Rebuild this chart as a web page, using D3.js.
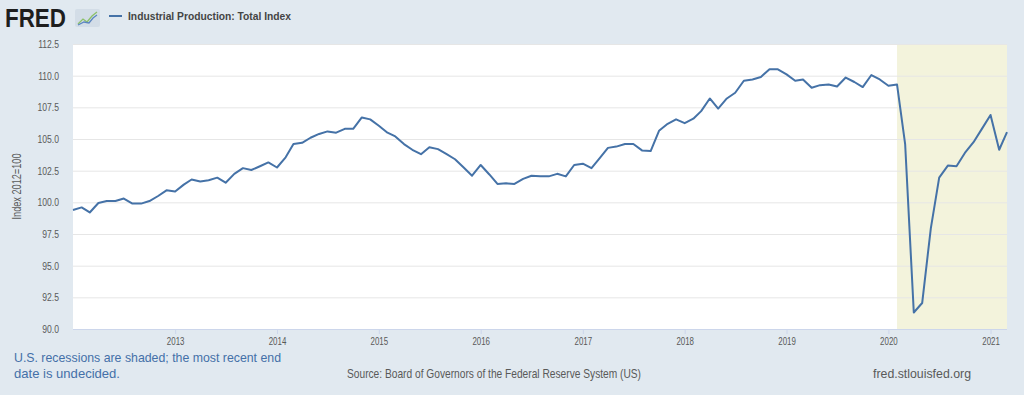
<!DOCTYPE html>
<html>
<head>
<meta charset="utf-8">
<script src="https://cdn.jsdelivr.net/npm/d3@7"></script>
<style>
  html, body { margin: 0; padding: 0; background: #e1e9f0; }
  #chart { width: 1024px; height: 395px; }
  text { font-family: "Liberation Sans", Arial, sans-serif; }
</style>
</head>
<body>
<div id="chart"></div>
<script>
// monthly observations, 2012-01 .. 2021-03
var startMonth = "2012-01-01";
var values = [
  99.4, 99.6, 99.2, 99.95, 100.1, 100.1, 100.3, 99.9, 99.9, 100.1, 100.5, 100.95,
  100.85, 101.4, 101.8, 101.65, 101.75, 101.95, 101.55, 102.25, 102.7, 102.55, 102.85, 103.15,
  102.75, 103.55, 104.6, 104.7, 105.1, 105.4, 105.6, 105.5, 105.8, 105.8, 106.7, 106.55,
  106.05, 105.5, 105.2, 104.6, 104.15, 103.8, 104.35, 104.2, 103.8, 103.4, 102.75, 102.1,
  102.95, 102.2, 101.45, 101.5, 101.45, 101.85, 102.1, 102.05, 102.05, 102.25, 102.05, 102.95,
  103.05, 102.7, 103.45, 104.3, 104.4, 104.6, 104.6, 104.1, 104.05, 105.65, 106.2, 106.55,
  106.25, 106.6, 107.2, 108.2, 107.4, 108.2, 108.65, 109.6, 109.7, 109.9, 110.5, 110.5,
  110.1, 109.6, 109.7, 109.05, 109.25, 109.3, 109.15, 109.85, 109.5, 109.1, 110.05, 109.7,
  109.2, 109.3, 104.6, 91.3, 92.05, 97.95, 101.95, 102.9, 102.85, 103.9, 104.75, 105.8,
  106.9, 104.15, 105.55
];
var recessions = [["2020-02-01", "2021-03-01"]];
var yTicks = [90.0, 92.5, 95.0, 97.5, 100.0, 102.5, 105.0, 107.5, 110.0, 112.5];
var xTickYears = [2013, 2014, 2015, 2016, 2017, 2018, 2019, 2020, 2021];
var seriesTitle = "Industrial Production: Total Index";
var yTitle = "Index 2012=100";
var noteLines = ["U.S. recessions are shaded; the most recent end", "date is undecided."];
var noteWidths = [267, 106];
var sourceText = "Source: Board of Governors of the Federal Reserve System (US)";
var siteText = "fred.stlouisfed.org";

var parse = d3.timeParse("%Y-%m-%d");
var t0 = parse(startMonth);
var data = values.map(function(v, i) {
    return { date: d3.timeMonth.offset(t0, i), value: v };
});

var W = 1024, H = 395;
var plotL = 73, plotR = 1007, plotT = 44, plotB = 329;

var svg = d3.select("#chart").append("svg")
    .attr("width", W)
    .attr("height", H);

svg.append("rect").attr("width", W).attr("height", H).attr("fill", "#e1e9f0");

var x = d3.scaleTime()
    .domain([t0, data[data.length - 1].date])
    .range([plotL, plotR]);
var y = d3.scaleLinear()
    .domain([90, 112.5])
    .range([plotB, plotT]);

// squeeze text horizontally, the original uses a condensed face
function condense(sel, k) {
    sel.each(function() {
        var w = this.getComputedTextLength();
        d3.select(this)
            .attr("textLength", w * k)
            .attr("lengthAdjust", "spacingAndGlyphs");
    });
}

// plot background
svg.append("rect")
    .attr("x", plotL).attr("y", plotT)
    .attr("width", plotR - plotL).attr("height", plotB - plotT)
    .attr("fill", "#fff");

// recession shading
svg.selectAll(".rec")
    .data(recessions)
    .enter().append("rect")
    .attr("class", "rec")
    .attr("x", function(d) { return x(parse(d[0])); })
    .attr("y", plotT)
    .attr("width", function(d) { return x(parse(d[1])) - x(parse(d[0])); })
    .attr("height", plotB - plotT)
    .attr("fill", "#f3f3dc");

// y axis + gridlines
var yAxis = svg.append("g")
    .attr("transform", "translate(" + plotL + ",0)")
    .call(d3.axisLeft(y).tickValues(yTicks).tickFormat(d3.format(".1f"))
        .tickSize(-(plotR - plotL)).tickPadding(14));
yAxis.select(".domain").remove();
yAxis.selectAll(".tick line").attr("stroke", "#e6e6e6").attr("stroke-width", 1);
yAxis.selectAll(".tick text")
    .attr("fill", "#595959")
    .style("font-size", "11px")
    .call(condense, 0.78);

// x axis
var xAxis = svg.append("g")
    .attr("transform", "translate(0," + plotB + ")")
    .call(d3.axisBottom(x)
        .tickValues(xTickYears.map(function(yr) { return new Date(yr, 0, 1); }))
        .tickFormat(d3.timeFormat("%Y"))
        .tickSize(5).tickPadding(3));
xAxis.select(".domain").attr("stroke", "#ccd6eb").attr("d", "M" + plotL + ",0.5H" + plotR);
xAxis.selectAll(".tick line").attr("stroke", "#ccd6eb");
xAxis.selectAll(".tick text")
    .attr("fill", "#595959")
    .style("font-size", "11px")
    .call(condense, 0.72);

// series line
var line = d3.line()
    .x(function(d) { return x(d.date); })
    .y(function(d) { return y(d.value); });

svg.append("path")
    .datum(data)
    .attr("d", line)
    .attr("fill", "none")
    .attr("stroke", "#4572a7")
    .attr("stroke-width", 2)
    .attr("stroke-linejoin", "round");

// y title
svg.append("text")
    .attr("transform", "translate(21," + ((plotT + plotB) / 2) + ") rotate(-90)")
    .attr("text-anchor", "middle")
    .attr("fill", "#595959")
    .style("font-size", "12px")
    .attr("textLength", 66)
    .attr("lengthAdjust", "spacingAndGlyphs")
    .text(yTitle);

// FRED logo
svg.append("text")
    .attr("x", 5).attr("y", 27)
    .style("font-weight", "900")
    .style("font-size", "25px")
    .attr("textLength", 61)
    .attr("lengthAdjust", "spacingAndGlyphs")
    .attr("fill", "#1e1e1e")
    .text("FRED");

var logo = svg.append("g").attr("transform", "translate(75,9)");
logo.append("rect")
    .attr("width", 25).attr("height", 18).attr("rx", 2)
    .attr("fill", "#d3dde7");
logo.append("polyline")
    .attr("points", "3,15 8,10 12,13 17,7 22,3")
    .attr("fill", "none").attr("stroke", "#8cc06a").attr("stroke-width", 1.3);
logo.append("polyline")
    .attr("points", "3,16 9,13 14,14 18,9 22,6")
    .attr("fill", "none").attr("stroke", "#5b86c0").attr("stroke-width", 1.3);

// legend
svg.append("line")
    .attr("x1", 109).attr("x2", 122).attr("y1", 16).attr("y2", 16)
    .attr("stroke", "#4572a7").attr("stroke-width", 2);
svg.append("text")
    .attr("x", 128).attr("y", 20)
    .style("font-weight", "bold")
    .style("font-size", "11px")
    .attr("fill", "#444")
    .attr("textLength", 163)
    .attr("lengthAdjust", "spacingAndGlyphs")
    .text(seriesTitle);

// footer
svg.append("g").selectAll("text")
    .data(noteLines)
    .enter().append("text")
    .attr("x", 14)
    .attr("y", function(d, i) { return 362 + i * 16; })
    .attr("fill", "#4470a8")
    .style("font-size", "13px")
    .attr("textLength", function(d, i) { return noteWidths[i]; })
    .attr("lengthAdjust", "spacingAndGlyphs")
    .text(function(d) { return d; });

svg.append("text")
    .attr("x", 347).attr("y", 378)
    .attr("fill", "#595959")
    .style("font-size", "13px")
    .attr("textLength", 294)
    .attr("lengthAdjust", "spacingAndGlyphs")
    .text(sourceText);

svg.append("text")
    .attr("x", 873).attr("y", 378)
    .attr("fill", "#595959")
    .style("font-size", "13px")
    .attr("textLength", 98)
    .attr("lengthAdjust", "spacingAndGlyphs")
    .text(siteText);
</script>
</body>
</html>
